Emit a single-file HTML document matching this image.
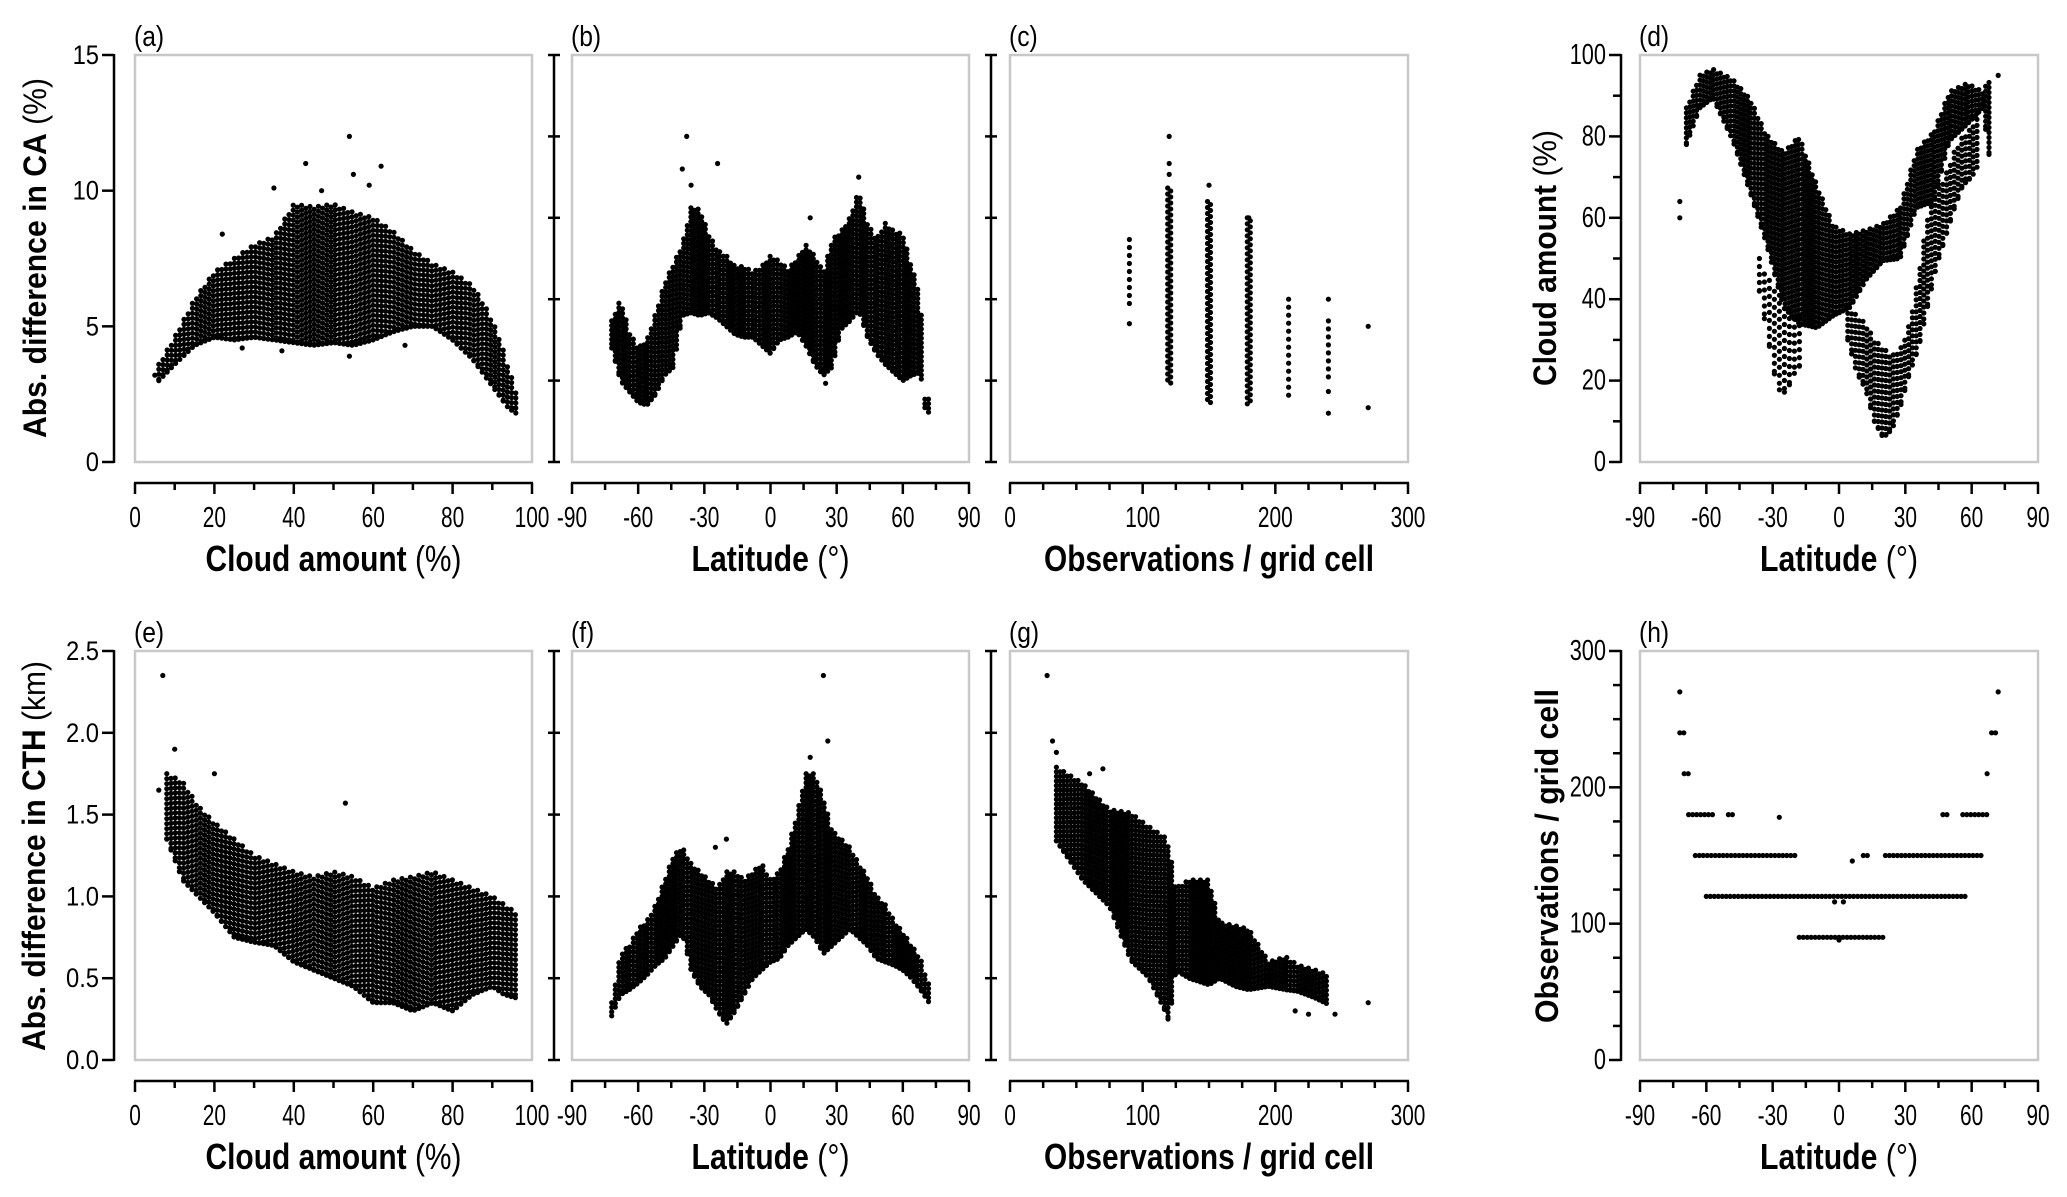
<!DOCTYPE html>
<html><head><meta charset="utf-8"><style>
html,body{margin:0;padding:0;background:#fff;}
svg{display:block;}
text{font-family:"Liberation Sans",Arial,sans-serif;fill:#000;}
</style></head><body>
<svg id="chart" width="2067" height="1197" viewBox="0 0 2067 1197" xmlns="http://www.w3.org/2000/svg"></svg>
<script>
// ---------- data (estimated from the figure) ----------
const aX  = [6,10,15,20,25,30,35,40,45,50,55,60,65,70,75,80,85,88,90,92,94,96];
const aLo = [3,3.6,4.3,4.6,4.5,4.6,4.5,4.4,4.3,4.4,4.3,4.5,4.8,5,5,4.5,3.8,3.2,2.8,2.4,2.0,1.8];
const aHi = [3.6,4.6,6,7,7.5,8,8.3,9.5,9.4,9.5,9.2,9.0,8.5,7.8,7.3,7,6.5,5.8,5.2,4.5,3.5,2.6];
const aOutX = [54,43,62,35,47,59,55,22,27,37,54,68,5];
const aOutY = [12,11,10.9,10.1,10,10.2,10.6,8.4,4.2,4.1,3.9,4.3,3.2];
const bX  = [-72,-68,-64,-60,-56,-52,-48,-44,-40,-36,-32,-28,-24,-20,-16,-12,-8,-4,0,4,8,12,16,20,24,28,32,36,40,44,48,52,56,60,64,68,70,72];
const bLo = [4.2,3,2.6,2.2,2.1,2.5,3.2,3.5,5.4,5.5,5.4,5.5,5.3,5,4.7,4.6,4.6,4.3,4,4.5,4.6,4.8,4.3,3.6,3.2,3.5,4.9,5.2,5.6,4.6,4,3.6,3.3,3,3.2,3.3,2,1.8];
const bHi = [5.2,6,4.8,4.2,4.5,5.5,6.6,7.3,8,9.4,9.3,8.4,7.8,7.6,7.2,7.2,7,7.2,7.6,7.4,7.1,7.5,8,7.6,7,8.2,8.5,9,10,8.8,8.2,8.8,8.5,8.4,7.2,6.1,2.4,2.3];
const bOutX = [-38,-24,-40,-36,40,18,25];
const bOutY = [12,11,10.8,10.2,10.5,9,2.9];
const cObs = [90,120,150,180,210,240,270];
const cLo  = [5.7,2.9,2.1,2.1,2.4,3.1,4.8];
const cHi  = [8.2,10.1,9.6,9.0,6.0,5.2,5.0];
const cOutX = [90,120,120,120,150,180,240,240,240,270];
const cOutY = [5.1,12,11,10.6,10.2,9.0,6.0,2.6,1.8,2.0];
const dAX  = [-69,-63,-57,-48,-40,-33,-25,-18,-10,-2.5,5,12.5,20,27.6,35,42.7,50,58,65,68];
const dALo = [78,87,89.5,79,66,54,38,34,33,36,38,45,49.5,50,62.5,64,79,83,87,75];
const dAHi = [87,95,96.5,94,89,80.5,76,80,68,58,56,57,58.5,62.5,76.5,81,91,93,91,94];
const dBX  = [-36,-32,-28,-24,-20,-16];
const dBLo = [42,30,18,17,22,25];
const dBHi = [50,45,42,38,36,35];
const dCX  = [4,8,12,16,20,24,28,32,36,40,44,48,52,56,60,64];
const dCLo = [30,22,18,10,6,8,14,22,28,38,48,55,62,68,70,74];
const dCHi = [38,36,34,30,28,26,28,34,46,60,66,70,76,80,82,88];
const dOutX = [-72,-72,72];
const dOutY = [60,64,95];
const eX  = [8,12,16,20,25,30,35,40,45,50,55,60,65,70,75,80,85,90,93,96];
const eLo = [1.35,1.1,1.0,0.9,0.75,0.72,0.7,0.6,0.55,0.5,0.45,0.35,0.35,0.3,0.35,0.3,0.4,0.45,0.4,0.38];
const eHi = [1.75,1.7,1.55,1.45,1.35,1.25,1.2,1.15,1.12,1.15,1.12,1.05,1.1,1.12,1.15,1.1,1.05,1.0,0.95,0.9];
const eOutX = [7,10,53,6,20];
const eOutY = [2.35,1.9,1.57,1.65,1.75];
const fX  = [-72,-68,-64,-60,-56,-52,-48,-44,-40,-36,-32,-28,-24,-20,-16,-12,-8,-4,0,4,8,12,16,20,24,28,32,36,40,44,48,52,56,60,64,68,72];
const fLo = [0.27,0.4,0.43,0.47,0.52,0.58,0.62,0.7,0.78,0.55,0.45,0.4,0.3,0.22,0.3,0.4,0.5,0.55,0.6,0.62,0.7,0.75,0.8,0.75,0.65,0.7,0.75,0.8,0.75,0.7,0.62,0.6,0.58,0.55,0.5,0.43,0.35];
const fHi = [0.35,0.65,0.7,0.8,0.85,0.95,1.1,1.25,1.3,1.2,1.15,1.1,1.05,1.15,1.15,1.1,1.15,1.2,1.1,1.15,1.3,1.5,1.75,1.75,1.6,1.4,1.35,1.3,1.2,1.12,1.0,0.95,0.85,0.78,0.7,0.62,0.45];
const fOutX = [24,26,18,-20,-25];
const fOutY = [2.35,1.95,1.85,1.35,1.3];
const gX  = [35,55,75,91,104,117,120,125,135,150,158,170,180,195,208,217,230,240];
const gLo = [1.34,1.10,0.94,0.61,0.51,0.3,0.23,0.55,0.5,0.46,0.5,0.45,0.43,0.45,0.43,0.42,0.38,0.34];
const gHi = [1.79,1.69,1.53,1.51,1.43,1.36,1.3,1.05,1.1,1.1,0.84,0.82,0.8,0.6,0.63,0.58,0.55,0.52];
const gOutX = [28,32,35,270,215,225,245,60,70];
const gOutY = [2.35,1.95,1.88,0.35,0.3,0.28,0.28,1.75,1.78];
const hVal  = [270,270,240,240,210,210,180,180,180,180,150,150,150,120,90];
const hFrom = [-72,72,-72,69,-70,67,-68,-50,47,56,-65,11,21,-60,-18];
const hTo   = [-72,72,-70,72,-68,68,-57,-48,50,68,-20,14,65,58,20];
const hOutX = [-27,6,-2,2,0];
const hOutY = [178,146,116,116,88];

// ---------- helpers ----------
const NS='http://www.w3.org/2000/svg';
const svg=document.getElementById('chart');
function el(tag,parent){const e=document.createElementNS(NS,tag);parent.appendChild(e);return e;}
function line(g,x1,y1,x2,y2,w,col){const l=el('line',g);l.setAttribute('x1',x1);l.setAttribute('y1',y1);l.setAttribute('x2',x2);l.setAttribute('y2',y2);l.setAttribute('stroke',col||'#000');l.setAttribute('stroke-width',w||2.5);return l;}
function txt(g,x,y,s,size,anchor,weight,sx){const t=el('text',g);t.setAttribute('transform','translate('+x+','+y+') scale('+sx+',1)');t.setAttribute('font-size',size);t.setAttribute('text-anchor',anchor);if(weight)t.setAttribute('font-weight',weight);t.textContent=s;return t;}
function interp(xs,ys,x){
  if(x<=xs[0])return ys[0];
  if(x>=xs[xs.length-1])return ys[ys.length-1];
  for(let i=0;i<xs.length-1;i++){if(x>=xs[i]&&x<=xs[i+1]){const f=xs[i+1]===xs[i]?0:(x-xs[i])/(xs[i+1]-xs[i]);return ys[i]+f*(ys[i+1]-ys[i]);}}
  return ys[ys.length-1];
}
function tsp(parent,s,bold){const t=el('tspan',parent);if(bold)t.setAttribute('font-weight','bold');t.textContent=s;return t;}

function panel(cfg){
  const g=el('g',svg);
  
  
  cfg.sx=v=>cfg.L+(v-cfg.xmin)/(cfg.xmax-cfg.xmin)*(cfg.R-cfg.L);
  cfg.sy=v=>cfg.B-(v-cfg.ymin)/(cfg.ymax-cfg.ymin)*(cfg.B-cfg.T);
  const fr=el('rect',g);fr.setAttribute('x',cfg.L);fr.setAttribute('y',cfg.T);fr.setAttribute('width',cfg.R-cfg.L);fr.setAttribute('height',cfg.B-cfg.T);
  fr.setAttribute('fill','none');fr.setAttribute('stroke','#c8c8c8');fr.setAttribute('stroke-width',2.5);
  
  
  const pl=txt(g,cfg.L-1,cfg.T-9,'('+cfg.id+')',29,'start',null,0.85);
  
  
  const xa=el('g',g);
  
  
  const AY=cfg.B+21;
  line(xa,cfg.L-1,AY,cfg.R+1,AY,2.5);
  for(let v=cfg.xmin;v<=cfg.xmax+1e-9;v+=cfg.xminor){
    const major=Math.abs((v-cfg.xmin)/cfg.xmajor-Math.round((v-cfg.xmin)/cfg.xmajor))<1e-6;
    line(xa,cfg.sx(v),AY,cfg.sx(v),AY+(major?11:7),2.5);
    if(major){const t=txt(xa,cfg.sx(v),AY+44,String(v),29,'middle',null,0.72);
      
      }
  }
  const xt=el('text',xa);
  xt.setAttribute('x',(cfg.L+cfg.R)/2);xt.setAttribute('y',AY+88);xt.setAttribute('text-anchor','middle');
  xt.setAttribute('font-size',36);xt.setAttribute('textLength',cfg.xtLen);xt.setAttribute('lengthAdjust','spacingAndGlyphs');
  tsp(xt,cfg.xtitle,true);
  if(cfg.xunit)tsp(xt,' '+cfg.xunit,false);
  
  
  const ya=el('g',g);
  
  
  line(ya,cfg.AX,cfg.T-1,cfg.AX,cfg.B+1,2.5);
  for(let v=cfg.ymin;v<=cfg.ymax+1e-9;v+=cfg.yminor){
    const y=cfg.sy(v);
    const major=cfg.ylabels&&Math.abs(v/cfg.ymajor-Math.round(v/cfg.ymajor))<1e-6;
    if(cfg.ycross){line(ya,cfg.AX-6,y,cfg.AX+6,y,2.5);}
    else line(ya,cfg.AX-(major?12:8),y,cfg.AX,y,2.5);
    if(major){const t=txt(ya,cfg.AX-15,y+9,cfg.yfmt(v),cfg.ysize,'end',null,cfg.ysx);
      
      }
  }
  if(cfg.ytitle){
    const yt=el('text',ya);
    yt.setAttribute('transform','translate('+cfg.ytX+','+cfg.ytY+') rotate(-90)');
    yt.setAttribute('text-anchor','middle');yt.setAttribute('font-size',cfg.ytSize);
    yt.setAttribute('textLength',cfg.ytLen);yt.setAttribute('lengthAdjust','spacingAndGlyphs');
    tsp(yt,cfg.ytitle,true);
    if(cfg.yunit)tsp(yt,' '+cfg.yunit,false);
    
    
  }
  const pts=el('g',g);
  
  
  cfg.g=pts;
  return cfg;
}
function dot(p,x,y){
  const c=el('circle',p.g);
  c.setAttribute('cx',x.toFixed(1));c.setAttribute('cy',y.toFixed(1));c.setAttribute('r',2.6);
  
  
}
function band(p,xs,lo,hi,dx,dy){
  const x0=p.sx(xs[0]),x1=p.sx(xs[xs.length-1]);let k=0;
  for(let px=x0;px<=x1+0.01;px+=dx,k++){
    let v=p.xmin+(px-p.L)/(p.R-p.L)*(p.xmax-p.xmin);
    v=Math.min(Math.max(v,xs[0]),xs[xs.length-1]);
    const yl=p.sy(interp(xs,lo,v)),yh=p.sy(interp(xs,hi,v));
    for(let py=yh+(k%2)*dy/2;py<=yl;py+=dy)dot(p,px,py);
    dot(p,px,yl);
  }
}
function outs(p,xs,ys){for(let i=0;i<xs.length;i++)dot(p,p.sx(xs[i]),p.sy(ys[i]));}

const rowTop={T:55,B:462}, rowBot={T:651,B:1060};
const fmt0=v=>String(v), fmt1=v=>v.toFixed(1);
const latX={xmin:-90,xmax:90,xmajor:30,xminor:15,xtitle:'Latitude',xunit:'(°)',xtLen:158};
const caX={xmin:0,xmax:100,xmajor:20,xminor:10,xtitle:'Cloud amount',xunit:'(%)',xtLen:256};
const obX={xmin:0,xmax:300,xmajor:100,xminor:25,xtitle:'Observations / grid cell',xunit:'',xtLen:330};

const pa=panel(Object.assign({id:'a',L:135,R:532,AX:114,ymin:0,ymax:15,ymajor:5,yminor:5,ylabels:true,yfmt:fmt0,ysize:27,ysx:0.88,
  ytitle:'Abs. difference in CA',yunit:'(%)',ytX:46,ytY:258,ytSize:32,ytLen:360},rowTop,caX));
const pb=panel(Object.assign({id:'b',L:572,R:969,AX:554,ymin:0,ymax:15,yminor:3,ycross:true},rowTop,latX));
const pc=panel(Object.assign({id:'c',L:1010,R:1408,AX:991,ymin:0,ymax:15,yminor:3,ycross:true},rowTop,obX));
const pd=panel(Object.assign({id:'d',L:1640,R:2038,AX:1621,ymin:0,ymax:100,ymajor:20,yminor:10,ylabels:true,yfmt:fmt0,ysize:29,ysx:0.75,
  ytitle:'Cloud amount',yunit:'(%)',ytX:1556,ytY:258,ytSize:32,ytLen:256},rowTop,latX));
const pe=panel(Object.assign({id:'e',L:135,R:532,AX:114,ymin:0,ymax:2.5,ymajor:0.5,yminor:0.5,ylabels:true,yfmt:fmt1,ysize:27,ysx:0.88,
  ytitle:'Abs. difference in CTH',yunit:'(km)',ytX:45,ytY:856,ytSize:32,ytLen:390},rowBot,caX));
const pf=panel(Object.assign({id:'f',L:572,R:969,AX:554,ymin:0,ymax:2.5,yminor:0.5,ycross:true},rowBot,latX));
const pg=panel(Object.assign({id:'g',L:1010,R:1408,AX:991,ymin:0,ymax:2.5,yminor:0.5,ycross:true},rowBot,obX));
const ph=panel(Object.assign({id:'h',L:1640,R:2038,AX:1621,ymin:0,ymax:300,ymajor:100,yminor:25,ylabels:true,yfmt:fmt0,ysize:29,ysx:0.75,
  ytitle:'Observations / grid cell',yunit:'',ytX:1558,ytY:856,ytSize:32,ytLen:334},rowBot,latX));

band(pa,aX,aLo,aHi,4.2,5); outs(pa,aOutX,aOutY);
band(pb,bX,bLo,bHi,3.6,4.6); outs(pb,bOutX,bOutY);
for(let i=0;i<cObs.length;i++){
  const x=pc.sx(cObs[i]);const sparse=cObs[i]>=210||cObs[i]<=90;
  for(let y=pc.sy(cHi[i]);y<=pc.sy(cLo[i]);y+=(sparse?8:3))dot(pc,x+(sparse?0:((Math.round(y)%2)?1.5:-1.5)),y);
}
outs(pc,cOutX,cOutY);
band(pd,dAX,dALo,dAHi,3.4,5); band(pd,dBX,dBLo,dBHi,5,8); band(pd,dCX,dCLo,dCHi,3.8,6); outs(pd,dOutX,dOutY);
band(pe,eX,eLo,eHi,4.2,5); outs(pe,eOutX,eOutY);
band(pf,fX,fLo,fHi,3.6,4.6); outs(pf,fOutX,fOutY);
band(pg,gX,gLo,gHi,3.6,4.6); outs(pg,gOutX,gOutY);
for(let i=0;i<hVal.length;i++){for(let v=hFrom[i];v<=hTo[i]+0.01;v+=1.8)dot(ph,ph.sx(v),ph.sy(hVal[i]));}
outs(ph,hOutX,hOutY);
</script>
</body></html>
